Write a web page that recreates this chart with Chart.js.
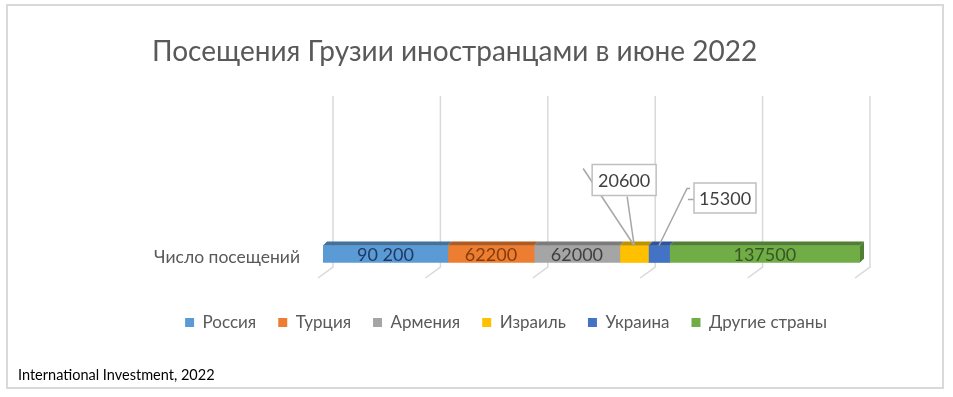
<!DOCTYPE html>
<html lang="ru">
<head>
<meta charset="utf-8">
<title>Посещения Грузии иностранцами в июне 2022</title>
<script src="https://cdn.jsdelivr.net/npm/chart.js@4.4.1/dist/chart.umd.min.js"></script>
<style>
  html, body { margin: 0; padding: 0; background: #fff; }
  canvas { display: block; }
</style>
</head>
<body>
<canvas id="visitsChart" width="953" height="397"></canvas>
<script>
const categories = ['Число посещений'];
const countries = ['Россия', 'Турция', 'Армения', 'Израиль', 'Украина', 'Другие страны'];
const visits = [90200, 62200, 62000, 20600, 15300, 137500];
const valueLabels = ['90 200', '62200', '62000', '20600', '15300', '137500'];
const frontColors = ['#5B9BD5', '#ED7D31', '#A5A5A5', '#FFC000', '#4472C4', '#70AD47'];
const topColors = ['#41719C', '#AE5A21', '#7B7B7B', '#BF9000', '#2F5597', '#507E32'];
const textColors = ['#1F3864', '#843C0C', '#404040', '#404040', '#404040', '#375623'];
const sourceText = 'International Investment, 2022';

const FONT = 'Lato, "Open Sans", sans-serif';
const total = visits.reduce((a, b) => a + b, 0);

// small segments get their label in a box above the bar
const callouts = {
  3: { dx: -10, dy: -74, w: 64, h: 31, lines: [[[0, 0], [-7, -49]], [[0, 0], [-51, -77]]] },
  4: { dx: 66, dy: -56, w: 62, h: 30, lines: [[[0, 0], [28, -57], [31, -57]], [[29, -46], [36, -46]]] }
};

const frame = {
  id: 'frame',
  beforeDraw(chart) {
    const c = chart.ctx;
    c.save();
    c.fillStyle = '#fff';
    c.fillRect(0, 0, chart.width, chart.height);
    c.strokeStyle = '#d9d9d9';
    c.lineWidth = 2;
    c.strokeRect(7, 5, 936, 383);
    c.restore();
  },
  beforeDatasetsDraw(chart) {
    // back-wall gridlines plus floor slants (3D look)
    const c = chart.ctx, x = chart.scales.x, area = chart.chartArea;
    c.save();
    c.strokeStyle = '#d9d9d9';
    c.lineWidth = 1.5;
    x.ticks.forEach(t => {
      const px = x.getPixelForValue(t.value) + 10;
      c.beginPath();
      c.moveTo(px, 96);
      c.lineTo(px, area.bottom);
      c.lineTo(px - 15, area.bottom + 11);
      c.stroke();
    });
    c.restore();
  }
};

const bar3d = {
  id: 'bar3d',
  afterDatasetsDraw(chart) {
    const c = chart.ctx;
    const d = 4;
    c.save();
    visits.forEach((v, i) => {
      const el = chart.getDatasetMeta(i).data[0];
      const x0 = el.base, x1 = el.x;
      const top = el.y - el.height / 2, bottom = el.y + el.height / 2;
      c.fillStyle = topColors[i];
      c.beginPath();
      c.moveTo(x0, top);
      c.lineTo(x0 + d, top - d);
      c.lineTo(x1 + d, top - d);
      c.lineTo(x1, top);
      c.closePath();
      c.fill();
      if (i === visits.length - 1) {
        c.beginPath();
        c.moveTo(x1, top);
        c.lineTo(x1 + d, top - d);
        c.lineTo(x1 + d, bottom - d);
        c.lineTo(x1, bottom);
        c.closePath();
        c.fill();
      }
    });

    c.font = '18px ' + FONT;
    c.textAlign = 'center';
    c.textBaseline = 'middle';
    visits.forEach((v, i) => {
      const el = chart.getDatasetMeta(i).data[0];
      const cx = (el.base + el.x) / 2;
      const top = el.y - el.height / 2;
      const co = callouts[i];
      if (!co) {
        c.fillStyle = textColors[i];
        c.fillText(valueLabels[i], cx, el.y + 1);
        return;
      }
      c.strokeStyle = '#a6a6a6';
      c.lineWidth = 1.5;
      co.lines.forEach(pts => {
        c.beginPath();
        pts.forEach(([px, py], k) => k ? c.lineTo(cx + px, top + py) : c.moveTo(cx + px, top + py));
        c.stroke();
      });
      const bx = cx + co.dx, by = el.y + co.dy;
      c.fillStyle = '#fff';
      c.fillRect(bx - co.w / 2, by - co.h / 2, co.w, co.h);
      c.strokeStyle = '#bfbfbf';
      c.strokeRect(bx - co.w / 2, by - co.h / 2, co.w, co.h);
      c.fillStyle = '#404040';
      c.fillText(valueLabels[i], bx, by + 1);
    });
    c.restore();
  },
  afterDraw(chart) {
    const c = chart.ctx;
    c.save();
    c.font = '14.5px ' + FONT;
    c.fillStyle = '#000';
    c.textAlign = 'left';
    c.textBaseline = 'alphabetic';
    c.fillText(sourceText, 18, 380);
    c.restore();
  }
};

const ctx = document.getElementById('visitsChart').getContext('2d');
new Chart(ctx, {
  type: 'bar',
  data: {
    labels: categories,
    datasets: countries.map((name, i) => ({
      label: name,
      data: [visits[i]],
      backgroundColor: frontColors[i],
      borderWidth: 0,
      barThickness: 17
    }))
  },
  options: {
    indexAxis: 'y',
    responsive: false,
    animation: false,
    layout: { padding: { left: 152, right: 93, top: 0, bottom: 56 } },
    scales: {
      x: {
        stacked: true,
        min: 0,
        max: total,
        ticks: { display: false, count: 6 },
        grid: { display: false },
        border: { display: false },
        afterFit: s => { s.height = 25; }
      },
      y: {
        stacked: true,
        ticks: { color: '#595959', font: { family: FONT, size: 17.5 }, padding: 23, labelOffset: 3 },
        grid: { display: false, drawTicks: false },
        border: { display: false },
        afterFit: s => { s.width = 171; }
      }
    },
    plugins: {
      title: {
        display: true,
        text: 'Посещения Грузии иностранцами в июне 2022',
        align: 'start',
        color: '#595959',
        font: { family: FONT, size: 28, weight: 'normal' },
        padding: { top: 35, bottom: 172.4 }
      },
      legend: {
        position: 'bottom',
        labels: { boxWidth: 9, boxHeight: 9, padding: 22, color: '#595959', font: { family: FONT, size: 17 } }
      },
      tooltip: { enabled: false }
    }
  },
  plugins: [frame, bar3d]
});
</script>
</body>
</html>
